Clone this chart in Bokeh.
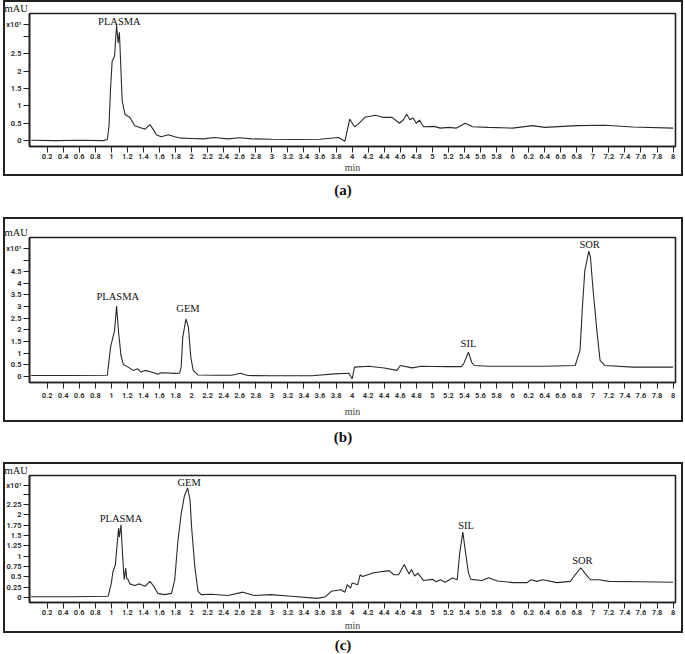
from bokeh.plotting import figure
from bokeh.models import Range1d, FixedTicker, Div, CustomJSTickFormatter
from bokeh.layouts import column
from bokeh.embed import file_html
from bokeh.resources import INLINE
from bokeh.core.properties import value

# ---------------- data (intensity in x10^1 mAU, time in min) ----------------
x_tick_labels = ["0.2", "0.4", "0.6", "0.8", "1", "1.2", "1.4", "1.6", "1.8", "2",
                 "2.2", "2.4", "2.6", "2.8", "3", "3.2", "3.4", "3.6", "3.8", "4",
                 "4.2", "4.4", "4.6", "4.8", "5", "5.2", "5.4", "5.6", "5.8", "6",
                 "6.2", "6.4", "6.6", "6.8", "7", "7.2", "7.4", "7.6", "7.8", "8"]

trace_a = [(0, 0.01), (0.3, 0.0), (0.6, 0.01), (0.9, 0.0), (0.95, 0.03), (0.97, 0.4),
           (0.99, 1.5), (1.01, 2.29), (1.04, 2.43), (1.065, 3.33), (1.085, 2.81),
           (1.10, 3.12), (1.115, 2.3), (1.135, 1.14), (1.17, 0.76), (1.20, 0.71),
           (1.23, 0.67), (1.29, 0.43), (1.375, 0.36), (1.42, 0.33), (1.48, 0.46),
           (1.52, 0.33), (1.56, 0.17), (1.62, 0.11), (1.71, 0.17), (1.79, 0.11),
           (1.87, 0.07), (2.0, 0.06), (2.15, 0.05), (2.28, 0.09), (2.45, 0.05),
           (2.6, 0.08), (2.75, 0.05), (3.0, 0.04), (3.3, 0.03), (3.6, 0.04),
           (3.83, 0.09), (3.91, -0.02), (3.97, 0.62), (4.03, 0.40), (4.07, 0.46),
           (4.16, 0.67), (4.29, 0.73), (4.38, 0.67), (4.5, 0.67), (4.59, 0.50),
           (4.64, 0.60), (4.68, 0.76), (4.72, 0.60), (4.76, 0.65), (4.8, 0.50),
           (4.84, 0.59), (4.89, 0.40), (5.02, 0.41), (5.1, 0.36), (5.2, 0.38),
           (5.3, 0.36), (5.41, 0.50), (5.5, 0.40), (5.7, 0.38), (6.0, 0.36),
           (6.25, 0.43), (6.4, 0.38), (6.8, 0.43), (7.15, 0.44), (7.5, 0.39),
           (8.0, 0.36)]

trace_b = [(0, 0.04), (0.5, 0.04), (0.95, 0.05), (0.99, 1.26), (1.02, 1.69),
           (1.04, 1.97), (1.065, 3.02), (1.09, 1.9), (1.12, 0.9), (1.15, 0.51),
           (1.21, 0.40), (1.27, 0.26), (1.33, 0.33), (1.37, 0.19), (1.42, 0.26),
           (1.5, 0.19), (1.58, 0.09), (1.62, 0.16), (1.79, 0.13), (1.85, 0.14),
           (1.87, 0.4), (1.89, 1.69), (1.93, 2.47), (1.96, 2.12), (1.99, 0.83),
           (2.02, 0.26), (2.08, 0.06), (2.3, 0.05), (2.5, 0.05), (2.61, 0.14),
           (2.7, 0.04), (3.0, 0.03), (3.5, 0.03), (3.78, 0.11), (3.96, 0.14),
           (4.0, -0.1), (4.03, 0.40), (4.21, 0.44), (4.4, 0.36), (4.56, 0.26),
           (4.6, 0.47), (4.75, 0.37), (4.86, 0.44), (5.02, 0.43), (5.2, 0.42),
           (5.36, 0.42), (5.39, 0.54), (5.45, 1.04), (5.49, 0.61), (5.52, 0.47),
           (5.7, 0.44), (6.0, 0.44), (6.4, 0.44), (6.78, 0.47), (6.84, 1.12),
           (6.87, 2.97), (6.9, 4.55), (6.95, 5.38), (6.97, 5.12), (7.0, 3.83),
           (7.05, 1.97), (7.09, 0.69), (7.15, 0.47), (7.5, 0.40), (8.0, 0.40)]

trace_c = [(0, 0.02), (0.5, 0.02), (0.96, 0.03), (1.0, 0.35), (1.02, 0.63),
           (1.05, 0.79), (1.08, 1.46), (1.09, 1.68), (1.10, 1.46), (1.12, 1.76),
           (1.14, 1.02), (1.16, 0.43), (1.18, 0.71), (1.19, 0.47), (1.21, 0.43),
           (1.23, 0.33), (1.29, 0.29), (1.35, 0.33), (1.42, 0.27), (1.48, 0.39),
           (1.53, 0.27), (1.58, 0.10), (1.66, 0.07), (1.75, 0.10), (1.79, 0.43),
           (1.83, 1.38), (1.87, 2.02), (1.91, 2.45), (1.95, 2.65), (1.98, 2.37),
           (2.0, 1.70), (2.04, 0.75), (2.08, 0.15), (2.12, 0.07), (2.25, 0.08),
           (2.45, 0.05), (2.64, 0.13), (2.78, 0.05), (2.99, 0.07), (3.24, 0.03),
           (3.57, -0.02), (3.67, 0.02), (3.74, 0.15), (3.86, 0.19), (3.91, 0.13),
           (3.94, 0.31), (3.98, 0.23), (4.0, 0.35), (4.07, 0.31), (4.1, 0.55),
           (4.13, 0.51), (4.27, 0.60), (4.46, 0.65), (4.52, 0.55), (4.58, 0.55),
           (4.65, 0.80), (4.71, 0.57), (4.74, 0.68), (4.78, 0.52), (4.82, 0.59),
           (4.89, 0.41), (5.0, 0.44), (5.05, 0.38), (5.1, 0.43), (5.16, 0.37),
           (5.25, 0.47), (5.31, 0.43), (5.34, 1.06), (5.38, 1.58), (5.41, 1.14),
           (5.45, 0.59), (5.48, 0.44), (5.62, 0.41), (5.7, 0.48), (5.81, 0.40),
           (6.01, 0.36), (6.18, 0.36), (6.23, 0.43), (6.3, 0.39), (6.38, 0.43),
           (6.55, 0.36), (6.72, 0.39), (6.78, 0.55), (6.85, 0.72), (6.9, 0.59),
           (6.97, 0.43), (7.08, 0.43), (7.2, 0.39), (7.6, 0.38), (8.0, 0.37)]

peaks_a = {"name": ["PLASMA"], "t": [1.1], "y": [3.43]}
peaks_b = {"name": ["PLASMA", "GEM", "SIL", "SOR"], "t": [1.08, 1.955, 5.45, 6.96],
           "y": [3.43, 2.9, 1.4, 5.65]}
peaks_c = {"name": ["PLASMA", "GEM", "SIL", "SOR"], "t": [1.12, 1.97, 5.42, 6.87],
           "y": [1.91, 2.77, 1.74, 0.9]}

# y ticks; the last one is drawn without a number, "x10¹" sits just above it
y_ticks_a = [0, 0.5, 1, 1.5, 2, 2.5, 3]
y_ticks_b = [0, 0.5, 1, 1.5, 2, 2.5, 3, 3.5, 4, 4.5, 5]
y_ticks_c = [0, 0.25, 0.5, 0.75, 1, 1.25, 1.5, 1.75, 2, 2.25, 2.5]
exp_label = "x10\u00b9"
exp_pos = [3.34, 5.49, 2.71]

captions = ["(a)", "(b)", "(c)"]

X_START, X_END = -0.02, 8.03
INK = "#222222"
TICK_FONT = "Roboto"
W = 680


def make_panel(trace, y_ticks, y_exp, y_range, height, top, bottom, peaks,
               lab_standoff, axlab_standoff):
    p = figure(width=W, height=height, x_range=Range1d(X_START, X_END),
               y_range=Range1d(*y_range), output_backend="svg", toolbar_location=None,
               min_border_left=26, min_border_right=8, min_border_top=top,
               min_border_bottom=bottom)
    p.styles = {"outline": "2px solid #222", "outline-offset": "-2px"}
    p.background_fill_color = "white"
    p.border_fill_color = None
    p.outline_line_color = INK
    p.outline_line_width = 1.6
    p.outline_line_alpha = 1
    p.grid.visible = False

    # "mAU" unit text as the (left aligned) title
    p.title.text = "mAU"
    p.title.align = "left"
    p.title.offset = -25
    p.title.standoff = 0
    p.title.text_font = "Liberation Serif"
    p.title.text_font_style = "normal"
    p.title.text_font_size = "10.5px"
    p.title.text_color = "#111"

    t = [q[0] for q in trace]
    s = [q[1] for q in trace]
    p.line(t, s, line_color="#2a2a2a", line_width=1.1)

    p.text(x=peaks["t"], y=peaks["y"], text=peaks["name"],
           text_font=value("Liberation Serif"), text_font_size="10.5px",
           text_align="center", text_baseline="middle", text_color="#111")

    xa = p.xaxis[0]
    xa.ticker = FixedTicker(ticks=[float(v) for v in x_tick_labels])
    xa.formatter = CustomJSTickFormatter(code="return String(Math.round(tick*10)/10)")
    xa.major_tick_out = 6
    xa.major_tick_in = 0
    xa.minor_tick_line_color = None
    xa.axis_line_color = INK
    xa.axis_line_width = 1.6
    xa.major_tick_line_color = INK
    xa.major_label_text_font = TICK_FONT
    xa.major_label_text_font_size = "7.5px"
    xa.major_label_text_font_style = "bold"
    xa.major_label_text_color = "#333"
    xa.major_label_standoff = lab_standoff
    xa.axis_label = "min"
    xa.axis_label_text_font = "Liberation Serif"
    xa.axis_label_text_font_style = "normal"
    xa.axis_label_text_font_size = "10px"
    xa.axis_label_standoff = axlab_standoff

    ya = p.yaxis[0]
    ya.ticker = FixedTicker(ticks=y_ticks + [y_exp])
    ya.formatter = CustomJSTickFormatter(
        args={"top": y_ticks[-1], "ex": y_exp, "exlabel": exp_label},
        code="if (Math.abs(tick - ex) < 1e-9) { return exlabel; }"
             " return Math.abs(tick - top) < 1e-9 ? '' : String(Math.round(tick*100)/100)")
    ya.major_tick_out = 6
    ya.major_tick_in = 0
    ya.minor_tick_line_color = None
    ya.axis_line_color = INK
    ya.axis_line_width = 1.6
    ya.major_tick_line_color = INK
    ya.major_label_text_font = TICK_FONT
    ya.major_label_text_font_size = "7.5px"
    ya.major_label_text_font_style = "bold"
    ya.major_label_text_color = "#333"
    ya.major_label_standoff = 2
    return p


def caption(text, height, line_h):
    return Div(text=text, width=W, height=height, margin=0,
               styles={"text-align": "center", "font-family": "Liberation Serif",
                       "font-weight": "bold", "font-size": "15px",
                       "line-height": f"{line_h}px", "color": "#111"})


p_a = make_panel(trace_a, y_ticks_a, exp_pos[0], (-0.17, 3.66), 176, 12, 30, peaks_a, 1, 0)
p_b = make_panel(trace_b, y_ticks_b, exp_pos[1], (-0.26, 5.97), 205, 20, 40, peaks_b, 4, 5)
p_c = make_panel(trace_c, y_ticks_c, exp_pos[2], (-0.12, 2.95), 171, 12, 30, peaks_c, 1, 2)

layout = column(p_a, caption(captions[0], 41, 28),
                p_b, caption(captions[1], 40, 30),
                p_c, caption(captions[2], 20, 24),
                spacing=0, styles={"margin-left": "3px"})

open("out.html", "w").write(file_html(layout, INLINE))
